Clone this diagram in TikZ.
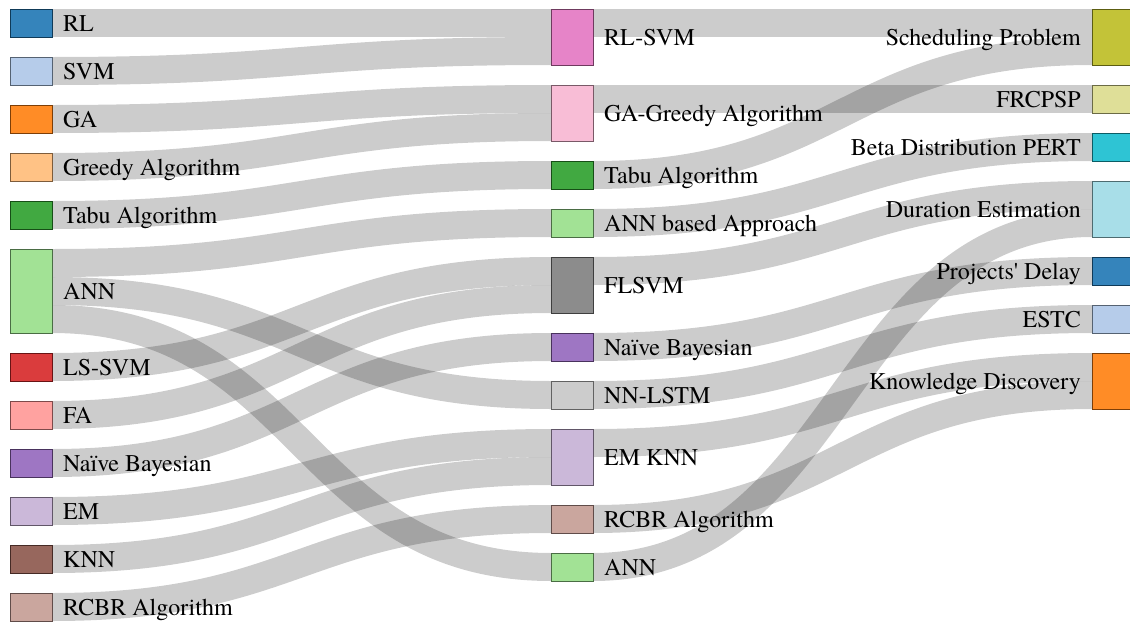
\documentclass[tikz,border=0pt]{standalone}
\usepackage{fontspec}
\setmainfont{TeX Gyre Termes}
\newfontfamily\sankeyfont{TeX Gyre Termes}
\usepackage{tikz}
\usetikzlibrary{positioning}
\usetikzlibrary{calc}
\usetikzlibrary{backgrounds}
\definecolor{cRL}{HTML}{1F77B4}
\definecolor{cSVM}{HTML}{AEC7E8}
\definecolor{cGA}{HTML}{FF7F0E}
\definecolor{cGreedy}{HTML}{FFBB78}
\definecolor{cTabu}{HTML}{2CA02C}
\definecolor{cANN}{HTML}{98DF8A}
\definecolor{cLSSVM}{HTML}{D62728}
\definecolor{cFA}{HTML}{FF9896}
\definecolor{cNaive}{HTML}{9467BD}
\definecolor{cEM}{HTML}{C5B0D5}
\definecolor{cKNN}{HTML}{8C564B}
\definecolor{cRCBR}{HTML}{C49C94}
\definecolor{cRLSVM}{HTML}{E377C2}
\definecolor{cGAGreedy}{HTML}{F7B6D2}
\definecolor{cFLSVM}{HTML}{7F7F7F}
\definecolor{cNNLSTM}{HTML}{C7C7C7}
\definecolor{cSched}{HTML}{BCBD22}
\definecolor{cFRCPSP}{HTML}{DBDB8D}
\definecolor{cBeta}{HTML}{17BECF}
\definecolor{cDuration}{HTML}{9EDAE5}
\tikzset{box/.style={draw=#1!49!black, fill=#1, fill opacity=0.9, line width=1pt,
			minimum width=42pt, minimum height=28pt, inner sep=0pt, outer sep=0pt},
		tall/.style={minimum height=56pt},
		taller/.style={minimum height=84pt},
		lbl/.style={inner sep=0pt, text height=16.8pt, text depth=0pt, font=\sankeyfont\fontsize{24}{28}\selectfont},
		link/.style={draw=black, draw opacity=0.2, line width=28pt}}
\newcommand{\flow}[2]{\draw[link] (#1) .. controls +(249.5,0) and +(-249.5,0) .. (#2);}

\begin{document}
\begin{tikzpicture}[x=1pt, y=-1pt]

					\useasboundingbox (0,0) rectangle (1130,624);

					\node[box=cRL] (rl) at (31,23) {};
					\node[box=cSVM] (svm) at (31,71) {};
					\node[box=cGA] (ga) at (31,119) {};
					\node[box=cGreedy] (greedy) at (31,167) {};
					\node[box=cTabu] (tabuL) at (31,215) {};
					\node[box=cANN, taller] (annL) at (31,291) {};
					\node[box=cLSSVM] (lssvm) at (31,367) {};
					\node[box=cFA] (fa) at (31,415) {};
					\node[box=cNaive] (naiveL) at (31,463) {};
					\node[box=cEM] (em) at (31,511) {};
					\node[box=cKNN] (knn) at (31,559) {};
					\node[box=cRCBR] (rcbrL) at (31,607) {};

					\node[box=cRLSVM, tall] (rlsvm) at (572,37) {};
					\node[box=cGAGreedy, tall] (gagreedy) at (572,113) {};
					\node[box=cTabu] (tabuM) at (572,175) {};
					\node[box=cANN] (annba) at (572,223) {};
					\node[box=cFLSVM, tall] (flsvm) at (572,285) {};
					\node[box=cNaive] (naiveM) at (572,347) {};
					\node[box=cNNLSTM] (nnlstm) at (572,395) {};
					\node[box=cEM, tall] (emknn) at (572,457) {};
					\node[box=cRCBR] (rcbrM) at (572,519) {};
					\node[box=cANN] (annM) at (572,567) {};

					\node[box=cSched, tall] (sched) at (1113,37) {};
					\node[box=cFRCPSP] (frcpsp) at (1113,99) {};
					\node[box=cBeta] (beta) at (1113,147) {};
					\node[box=cDuration, tall] (duration) at (1113,209) {};
					\node[box=cRL] (delay) at (1113,271) {};
					\node[box=cSVM] (estc) at (1113,319) {};
					\node[box=cGA, tall] (knowledge) at (1113,381) {};

					\node[lbl, right=11pt of rl] (rlT) {RL};
					\node[lbl, right=11pt of svm] (svmT) {SVM};
					\node[lbl, right=11pt of ga] (gaT) {GA};
					\node[lbl, right=11pt of greedy] (greedyT) {Greedy Algorithm};
					\node[lbl, right=11pt of tabuL] (tabuLT) {Tabu Algorithm};
					\node[lbl, right=11pt of annL] (annLT) {ANN};
					\node[lbl, right=11pt of lssvm] (lssvmT) {LS-SVM};
					\node[lbl, right=11pt of fa] (faT) {FA};
					\node[lbl, right=11pt of naiveL] (naiveLT) {Naïve Bayesian};
					\node[lbl, right=11pt of em] (emT) {EM};
					\node[lbl, right=11pt of knn] (knnT) {KNN};
					\node[lbl, right=11pt of rcbrL] (rcbrLT) {RCBR Algorithm};

					\node[lbl, right=11pt of rlsvm] (rlsvmT) {RL-SVM};
					\node[lbl, right=11pt of gagreedy] (gagreedyT) {GA-Greedy Algorithm};
					\node[lbl, right=11pt of tabuM] (tabuMT) {Tabu Algorithm};
					\node[lbl, right=11pt of annba] (annbaT) {ANN based Approach};
					\node[lbl, right=11pt of flsvm] (flsvmT) {FLSVM};
					\node[lbl, right=11pt of naiveM] (naiveMT) {Naïve Bayesian};
					\node[lbl, right=11pt of nnlstm] (nnlstmT) {NN-LSTM};
					\node[lbl, right=11pt of emknn] (emknnT) {EM KNN};
					\node[lbl, right=11pt of rcbrM] (rcbrMT) {RCBR Algorithm};
					\node[lbl, right=11pt of annM] (annMT) {ANN};

					\node[lbl, left=11pt of sched] (schedT) {Scheduling Problem};
					\node[lbl, left=11pt of frcpsp] (frcpspT) {FRCPSP};
					\node[lbl, left=11pt of beta] (betaT) {Beta Distribution PERT};
					\node[lbl, left=11pt of duration] (durationT) {Duration Estimation};
					\node[lbl, left=11pt of delay] (delayT) {Projects\textquotesingle\ Delay};
					\node[lbl, left=11pt of estc] (estcT) {ESTC};
					\node[lbl, left=11pt of knowledge] (knowledgeT) {Knowledge Discovery};

					\begin{scope}[on background layer]
						\flow{rl.east}{$(rlsvm.north west)+(0,14)$}
						\flow{svm.east}{$(rlsvm.north west)+(0,42)$}
						\flow{ga.east}{$(gagreedy.north west)+(0,14)$}
						\flow{greedy.east}{$(gagreedy.north west)+(0,42)$}
						\flow{tabuL.east}{tabuM.west}
						\flow{$(annL.north east)+(0,14)$}{annba.west}
						\flow{annL.east}{nnlstm.west}
						\flow{$(annL.north east)+(0,70)$}{annM.west}
						\flow{lssvm.east}{$(flsvm.north west)+(0,14)$}
						\flow{fa.east}{$(flsvm.north west)+(0,42)$}
						\flow{naiveL.east}{naiveM.west}
						\flow{em.east}{$(emknn.north west)+(0,14)$}
						\flow{knn.east}{$(emknn.north west)+(0,42)$}
						\flow{rcbrL.east}{rcbrM.west}

						\flow{$(rlsvm.north east)+(0,14)$}{$(sched.north west)+(0,14)$}
						\flow{tabuM.east}{$(sched.north west)+(0,42)$}
						\flow{$(gagreedy.north east)+(0,14)$}{frcpsp.west}
						\flow{annba.east}{beta.west}
						\flow{$(flsvm.north east)+(0,14)$}{$(duration.north west)+(0,14)$}
						\flow{annM.east}{$(duration.north west)+(0,42)$}
						\flow{naiveM.east}{delay.west}
						\flow{nnlstm.east}{estc.west}
						\flow{$(emknn.north east)+(0,14)$}{$(knowledge.north west)+(0,14)$}
						\flow{rcbrM.east}{$(knowledge.north west)+(0,42)$}
					\end{scope}

				\end{tikzpicture}
\end{document}
